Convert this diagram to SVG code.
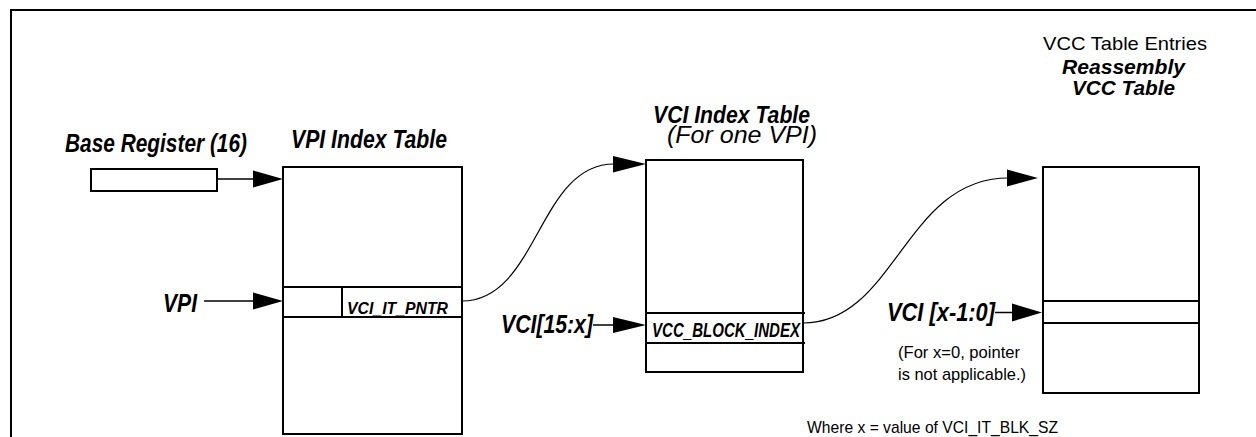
<svg xmlns="http://www.w3.org/2000/svg" width="1256" height="437" viewBox="0 0 1256 437">
<style>
.box{fill:#fff;stroke:#000;stroke-width:2}
.row{fill:none;stroke:#000;stroke-width:2}
.ln{fill:none;stroke:#000;stroke-width:1.5}
.cv{fill:none;stroke:#000;stroke-width:1.2}
.bi{font-family:"Liberation Sans Narrow","Liberation Sans",Arial,sans-serif;font-weight:bold;font-style:italic;fill:#000}
.rg{font-family:"Liberation Sans Narrow","Liberation Sans",Arial,sans-serif;fill:#000}
.it{font-family:"Liberation Sans",Arial,sans-serif;font-style:italic;fill:#000}
.head{fill:#000;stroke:none}
</style>
<rect width="1256" height="437" fill="#fff"/>
<path d="M11,437 V10 H1256" fill="none" stroke="#000" stroke-width="2"/>

<g id="base-register">
<rect class="box" x="91" y="169" width="126" height="22"/>
<text class="bi" x="65" y="152" font-size="26" textLength="182" lengthAdjust="spacingAndGlyphs">Base Register (16)</text>
</g>

<g id="vpi-index-table">
<text class="bi" x="291" y="148" font-size="26" textLength="156" lengthAdjust="spacingAndGlyphs">VPI Index Table</text>
<rect class="box" x="283" y="167" width="179" height="267"/>
<line class="row" x1="283" y1="287" x2="463" y2="287"/>
<line class="row" x1="283" y1="317" x2="463" y2="317"/>
<line class="row" x1="342" y1="287" x2="342" y2="318"/>
<text class="bi" x="347" y="314" font-size="17" textLength="101" lengthAdjust="spacingAndGlyphs">VCI_IT_PNTR</text>
</g>

<g id="vci-index-table">
<text class="bi" x="653" y="123" font-size="24" textLength="157" lengthAdjust="spacingAndGlyphs">VCI Index Table</text>
<text class="it" x="667" y="143" font-size="24" textLength="150" lengthAdjust="spacingAndGlyphs">(For one VPI)</text>
<rect class="box" x="646" y="160" width="157" height="212"/>
<line class="row" x1="646" y1="313" x2="805" y2="313"/>
<line class="row" x1="646" y1="343" x2="805" y2="343"/>
<text class="bi" x="652" y="336.5" font-size="20" textLength="148" lengthAdjust="spacingAndGlyphs">VCC_BLOCK_INDEX</text>
</g>

<g id="vcc-table">
<text class="rg" x="1043" y="50" font-size="19" textLength="164" lengthAdjust="spacingAndGlyphs">VCC Table Entries</text>
<text class="bi" x="1062" y="74" font-size="21" textLength="123" lengthAdjust="spacingAndGlyphs">Reassembly</text>
<text class="bi" x="1072" y="95" font-size="21" textLength="103" lengthAdjust="spacingAndGlyphs">VCC Table</text>
<rect class="box" x="1043" y="167" width="156" height="226"/>
<line class="row" x1="1042" y1="301" x2="1199" y2="301"/>
<line class="row" x1="1042" y1="323" x2="1199" y2="323"/>
</g>

<g id="labels">
<text class="bi" x="163" y="312" font-size="26" textLength="34" lengthAdjust="spacingAndGlyphs">VPI</text>
<text class="bi" x="501" y="333" font-size="26" textLength="92" lengthAdjust="spacingAndGlyphs">VCI[15:x]</text>
<text class="bi" x="887" y="321" font-size="26" textLength="108" lengthAdjust="spacingAndGlyphs">VCI [x-1:0]</text>
<text class="rg" x="898" y="358" font-size="17" textLength="122" lengthAdjust="spacingAndGlyphs">(For x=0, pointer</text>
<text class="rg" x="898" y="380" font-size="17" textLength="128" lengthAdjust="spacingAndGlyphs">is not applicable.)</text>
<text class="rg" x="807" y="433" font-size="17" textLength="251" lengthAdjust="spacingAndGlyphs">Where x = value of VCI_IT_BLK_SZ</text>
</g>

<g id="connectors">
<line class="ln" x1="217" y1="179" x2="254" y2="179"/>
<polygon class="head" points="253,170.5 283,179 253,187.5"/>
<line class="ln" x1="204" y1="301" x2="254" y2="301"/>
<polygon class="head" points="253,292.5 283,301 253,309.5"/>
<path class="cv" d="M462,301 C538,301 538,164 614,164"/>
<polygon class="head" points="613,156 646,164 613,172.5"/>
<line class="ln" x1="593" y1="325" x2="614" y2="325"/>
<polygon class="head" points="613,317 646,325 613,333"/>
<path class="cv" d="M803,323 C895,323 905,178 1008,178"/>
<polygon class="head" points="1007,169.5 1038,178 1007,186.5"/>
<line class="ln" x1="995" y1="312.5" x2="1013" y2="312.5"/>
<polygon class="head" points="1012,303.5 1042,312.5 1012,321.5"/>
</g>
</svg>
